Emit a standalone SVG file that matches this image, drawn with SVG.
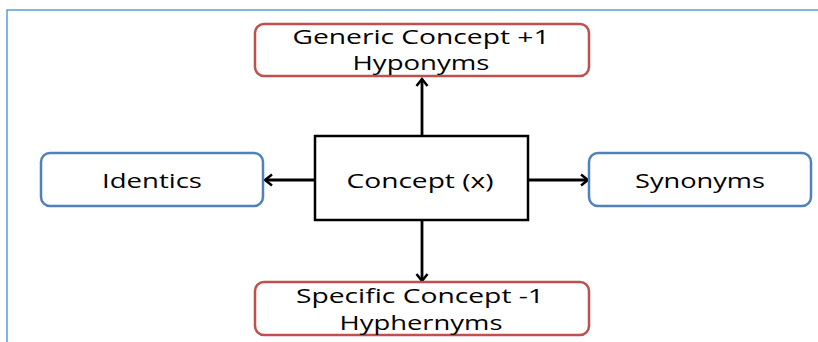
<svg xmlns="http://www.w3.org/2000/svg" width="818" height="342" viewBox="0 0 818 342">
<style>
.red{fill:#fff;stroke:#C0504D;stroke-width:2.5}
.blue{fill:#fff;stroke:#4F81BD;stroke-width:2.5}
.ctr{fill:#fff;stroke:#000;stroke-width:2.5}
.t{font-family:"Open Sans","Liberation Sans",Arial,sans-serif;font-size:20.5px;fill:#000;text-anchor:middle}
.c{stroke:#000;stroke-width:2.8;fill:none}
</style>
<defs>
<marker id="ah" viewBox="0 0 14 14" refX="12" refY="7" markerWidth="14" markerHeight="14" markerUnits="userSpaceOnUse" orient="auto">
<polyline points="5,1.5 12,7 5,12.5" fill="none" stroke="#000" stroke-width="2.5"/>
</marker>
</defs>
<rect width="818" height="342" fill="#fff"/>
<g id="frame">
<polyline points="818,10 7,10 7,342" fill="none" stroke="#5B9BD5" stroke-width="1.5"/>
</g>
<g id="connectors">
<line class="c" x1="422" y1="136" x2="422" y2="79" marker-end="url(#ah)"/>
<line class="c" x1="422" y1="220" x2="422" y2="281" marker-end="url(#ah)"/>
<line class="c" x1="315" y1="180" x2="265" y2="180" marker-end="url(#ah)"/>
<line class="c" x1="528" y1="180" x2="588" y2="180" marker-end="url(#ah)"/>
</g>
<g id="generic">
<rect class="red" x="255" y="24" width="334" height="52" rx="9"/>
<text class="t" x="421" y="44" textLength="257" lengthAdjust="spacingAndGlyphs">Generic Concept +1</text>
<text class="t" x="421" y="70" textLength="137" lengthAdjust="spacingAndGlyphs">Hyponyms</text>
</g>
<g id="concept">
<rect class="ctr" x="315" y="136" width="213" height="84"/>
<text class="t" x="420" y="188" textLength="147" lengthAdjust="spacingAndGlyphs">Concept (x)</text>
</g>
<g id="identics">
<rect class="blue" x="41" y="153" width="222" height="53" rx="9"/>
<text class="t" x="152" y="188" textLength="100" lengthAdjust="spacingAndGlyphs">Identics</text>
</g>
<g id="synonyms">
<rect class="blue" x="589" y="153" width="222" height="53" rx="9"/>
<text class="t" x="700" y="188" textLength="130" lengthAdjust="spacingAndGlyphs">Synonyms</text>
</g>
<g id="specific">
<rect class="red" x="255" y="282" width="334" height="53" rx="9"/>
<text class="t" x="420" y="303" textLength="248" lengthAdjust="spacingAndGlyphs">Specific Concept -1</text>
<text class="t" x="421" y="330" textLength="163" lengthAdjust="spacingAndGlyphs">Hyphernyms</text>
</g>
</svg>
